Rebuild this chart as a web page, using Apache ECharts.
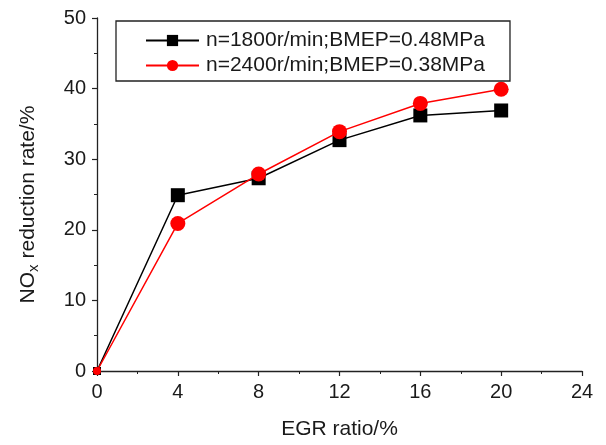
<!DOCTYPE html>
<html>
<head>
<meta charset="utf-8">
<script src="https://cdn.jsdelivr.net/npm/echarts@6/dist/echarts.min.js"></script>
<style>
  html, body { margin: 0; padding: 0; background: #fff; }
  #chart { width: 606px; height: 445px; }
</style>
</head>
<body>
<div id="chart"></div>
<script>
// EGR ratio (%) at each measured point
const egrRatio = [0, 4, 8, 12, 16, 20];
// NOx reduction rate (%) for the two operating conditions
const nox1800 = [0, 24.9, 27.3, 32.7, 36.2, 36.9];
const nox2400 = [0, 20.9, 27.9, 33.9, 37.9, 39.9];
const seriesNames = ['n=1800r/min;BMEP=0.48MPa', 'n=2400r/min;BMEP=0.38MPa'];

const FONT = '"Liberation Sans", Arial, sans-serif';
const TEXT = '#1a1a1a';
const chart = echarts.init(document.getElementById('chart'));

const axisCommon = {
  axisLine: { show: true, lineStyle: { color: '#222', width: 1.3 } },
  axisTick: { show: true, inside: false, length: 5, lineStyle: { color: '#222', width: 1.2 } },
  minorTick: { show: true, splitNumber: 2, length: 3, lineStyle: { color: '#222', width: 1 } },
  splitLine: { show: false },
  axisLabel: { color: TEXT, fontSize: 20, fontFamily: FONT, margin: 11 }
};

// markers at the origin sit in the axes corner and are drawn smaller
const sizeAtOrigin = (full) => (v) => (v[0] === 0 ? 8 : full);

chart.setOption({
  animation: false,
  backgroundColor: '#fff',
  grid: { left: 97, right: 24, top: 18, bottom: 72, containLabel: false },
  legend: {
    orient: 'vertical',
    left: 116,
    top: 21,
    padding: [9, 25, 5, 29],
    itemGap: 4,
    itemWidth: 53,
    itemHeight: 14,
    borderColor: '#222',
    borderWidth: 1.3,
    textStyle: { color: TEXT, fontSize: 21, fontFamily: FONT, padding: [0, 0, 0, 2] },
    data: seriesNames
  },
  xAxis: Object.assign({}, axisCommon, {
    type: 'value',
    min: 0, max: 24, interval: 4,
    name: 'EGR ratio/%',
    nameLocation: 'middle',
    nameGap: 48,
    nameTextStyle: { color: TEXT, fontSize: 21, fontFamily: FONT }
  }),
  yAxis: Object.assign({}, axisCommon, {
    type: 'value',
    min: 0, max: 50, interval: 10,
    name: 'NO{sub|x} reduction rate/%',
    nameLocation: 'middle',
    nameRotate: 90,
    nameGap: 56,
    nameTextStyle: {
      color: TEXT, fontSize: 21, fontFamily: FONT,
      padding: [0, 20, 0, 0],
      rich: { sub: { fontSize: 15, fontFamily: FONT, color: TEXT, verticalAlign: 'bottom', padding: [10, 0, 0, 0] } }
    }
  }),
  series: [
    {
      name: seriesNames[0],
      type: 'line',
      data: egrRatio.map((x, i) => [x, nox1800[i]]),
      symbol: 'rect',
      symbolSize: sizeAtOrigin(14),
      itemStyle: { color: '#000' },
      lineStyle: { color: '#000', width: 1.5 },
      z: 2
    },
    {
      name: seriesNames[1],
      type: 'line',
      data: egrRatio.map((x, i) => [x, nox2400[i]]),
      symbol: 'circle',
      symbolSize: sizeAtOrigin(15),
      itemStyle: { color: '#ff0000' },
      lineStyle: { color: '#ff0000', width: 1.5 },
      z: 3
    }
  ]
});
</script>
</body>
</html>
